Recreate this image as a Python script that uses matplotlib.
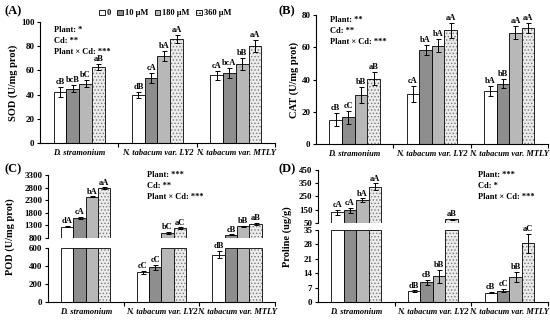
import matplotlib.pyplot as plt
import numpy as np
from matplotlib.patches import Patch

plt.rcParams['font.family'] = ['Liberation Serif', 'DejaVu Serif']
plt.rcParams['font.weight'] = 'bold'
plt.rcParams['axes.labelweight'] = 'bold'
plt.rcParams['hatch.linewidth'] = 0.6

plants = ['D. stramonium', 'N. tabacum var. LY2', 'N. tabacum var. MTLY']
treatments = ['0', '10 μM', '180 μM', '360 μM']

# rows = plant, columns = Cd treatment
sod = [[42, 45, 49, 63], [40, 54, 72, 86], [56, 58, 65, 80]]
sod_err = [[4, 3, 3, 2.5], [2.5, 4, 4, 3], [3.5, 4, 5, 5]]
sod_lab = [['cB', 'bcB', 'bC', 'aB'], ['dB', 'cA', 'bA', 'aA'], ['cA', 'bcA', 'bB', 'aA']]

cat = [[15, 16.5, 30.5, 40.5], [31, 58.5, 61, 70.5], [33, 37.5, 69, 72]]
cat_err = [[4, 4, 5, 4], [5, 3, 4, 4.5], [3, 3, 4, 3]]
cat_lab = [['cB', 'cC', 'bB', 'aB'], ['cA', 'bA', 'bA', 'aA'], ['bA', 'bB', 'aA', 'aA']]

pod = [[1250, 1600, 2430, 2780], [330, 385, 1020, 1200], [525, 940, 1260, 1370]]
pod_err = [[30, 40, 20, 40], [20, 30, 40, 30], [40, 20, 30, 40]]
pod_lab = [['dA', 'cA', 'bA', 'aA'], ['cC', 'cC', 'bC', 'aC'], ['dB', 'cB', 'bB', 'aB']]

pro = [[130, 145, 220, 325], [5.3, 9.6, 12.5, 78], [4.6, 5.6, 12.4, 28.5]]
pro_err = [[20, 20, 15, 25], [0.4, 1.3, 3.2, 5], [0.3, 0.8, 2.4, 4.5]]
pro_lab = [['cA', 'cA', 'bA', 'aA'], ['dB', 'cB', 'bB', 'aB'], ['cB', 'cC', 'bB', 'aC']]

colors = ['white', '#8e8e8e', '#b8b8b8', '#ececec']
hatches = [None, None, None, '.....']
width = 0.163
offsets = (np.arange(4) - 1.5) * width + 0.5

fig = plt.figure(figsize=(5.5, 3.2), dpi=100)


def style_axis(ax, bottom=True):
    ax.spines['top'].set_visible(False)
    ax.spines['right'].set_visible(False)
    for s in ax.spines.values():
        s.set_linewidth(0.8)
    ax.tick_params(axis='y', labelsize=6.5, length=2.5, width=0.8, pad=1.5)
    ax.set_xlim(0, 3)
    if bottom:
        ax.set_xticks([0.5, 1.5, 2.5])
        ax.set_xticklabels(plants, fontsize=6, style='italic', fontweight='bold')
        ax.tick_params(axis='x', which='major', length=0, pad=4)
        ax.set_xticks([1, 2, 3], minor=True)
        ax.tick_params(axis='x', which='minor', length=3, width=0.8, direction='out')
    else:
        ax.spines['bottom'].set_visible(False)
        ax.set_xticks([])


def draw_bars(ax, vals, errs, labs, lo, hi, lab_pad):
    vals = np.array(vals, dtype=float)
    errs = np.array(errs, dtype=float)
    for j in range(4):
        x = np.arange(3) + offsets[j]
        v = vals[:, j]
        show = v > lo
        h = np.clip(v, lo, hi) - lo
        if hatches[j]:
            ax.bar(x[show], h[show], width, bottom=lo, color=colors[j],
                   edgecolor='#7a7a7a', linewidth=0, hatch=hatches[j], zorder=2)
            ax.bar(x[show], h[show], width, bottom=lo, fill=False,
                   edgecolor='black', linewidth=0.6, zorder=3)
        else:
            ax.bar(x[show], h[show], width, bottom=lo, color=colors[j],
                   edgecolor='black', linewidth=0.6, zorder=2)
        inside = show & (v <= hi)
        ax.errorbar(x[inside], v[inside], yerr=errs[inside, j], fmt='none',
                    ecolor='black', elinewidth=0.7, capsize=1.8, capthick=0.7, zorder=4)
        for i in np.where(inside)[0]:
            ax.text(x[i], v[i] + errs[i, j] + lab_pad, labs[i][j], ha='center',
                    va='bottom', fontsize=6, fontweight='bold')
    ax.set_ylim(lo, hi)


# (A) SOD
axA = fig.add_axes([0.0727, 0.553, 0.4273, 0.378])
draw_bars(axA, sod, sod_err, sod_lab, 0, 100, 0.8)
axA.set_yticks(range(0, 101, 20))
style_axis(axA)
axA.set_ylabel('SOD (U/mg prot)', fontsize=7.5, labelpad=2)
axA.text(0.06, 0.97, 'Plant: *\nCd: **\nPlant × Cd: ***', transform=axA.transAxes,
         ha='left', va='top', fontsize=6, linespacing=1.5)

# (B) CAT
axB = fig.add_axes([0.5745, 0.55, 0.4215, 0.403])
draw_bars(axB, cat, cat_err, cat_lab, 0, 80, 0.6)
axB.set_yticks(range(0, 81, 20))
style_axis(axB)
axB.set_ylabel('CAT (U/mg prot)', fontsize=7.5, labelpad=2)
axB.text(0.06, 0.99, 'Plant: **\nCd: **\nPlant × Cd: ***', transform=axB.transAxes,
         ha='left', va='top', fontsize=6, linespacing=1.5)

# (C) POD, broken axis
axC1 = fig.add_axes([0.087, 0.256, 0.413, 0.197])
draw_bars(axC1, pod, pod_err, pod_lab, 800, 3300, 20)
axC1.set_yticks(range(800, 3301, 500))
style_axis(axC1, bottom=False)
axC2 = fig.add_axes([0.087, 0.056, 0.413, 0.169])
draw_bars(axC2, pod, pod_err, pod_lab, 0, 600, 8)
axC2.set_yticks(range(0, 601, 200))
style_axis(axC2)
fig.text(0.018, 0.26, 'POD (U/mg prot)', rotation=90, ha='center', va='center',
         fontsize=7.5, fontweight='bold')
fig.text(0.268, 0.465, 'Plant: ***\nCd: **\nPlant × Cd: ***', ha='left', va='top',
         fontsize=6, linespacing=1.5)

# (D) Proline, broken axis
axD1 = fig.add_axes([0.578, 0.303, 0.418, 0.166])
draw_bars(axD1, pro, pro_err, pro_lab, 50, 450, 4)
axD1.set_yticks(range(50, 451, 100))
style_axis(axD1, bottom=False)
axD2 = fig.add_axes([0.578, 0.056, 0.418, 0.225])
draw_bars(axD2, pro, pro_err, pro_lab, 0, 35, 0.4)
axD2.set_yticks(range(0, 36, 7))
style_axis(axD2)
fig.text(0.522, 0.26, 'Proline (ug/g)', rotation=90, ha='center', va='center',
         fontsize=7.5, fontweight='bold')
fig.text(0.87, 0.465, 'Plant: ***\nCd: *\nPlant × Cd: ***', ha='left', va='top',
         fontsize=6, linespacing=1.5)

# panel letters
for x, y, s in [(0.008, 0.965, '(A)'), (0.507, 0.965, '(B)'),
                (0.008, 0.47, '(C)'), (0.507, 0.47, '(D)')]:
    fig.text(x, y, s, fontsize=9, fontweight='bold', ha='left', va='center')

handles = [Patch(facecolor=colors[j], edgecolor='black', linewidth=0.6,
                 hatch=hatches[j]) for j in range(4)]
fig.legend(handles, treatments, loc='center', bbox_to_anchor=(0.3, 0.958), ncol=4,
           frameon=False, fontsize=6, handlelength=0.7, handleheight=0.7,
           handletextpad=0.2, columnspacing=0.8, borderpad=0)

fig.savefig('out.png', dpi=100)
